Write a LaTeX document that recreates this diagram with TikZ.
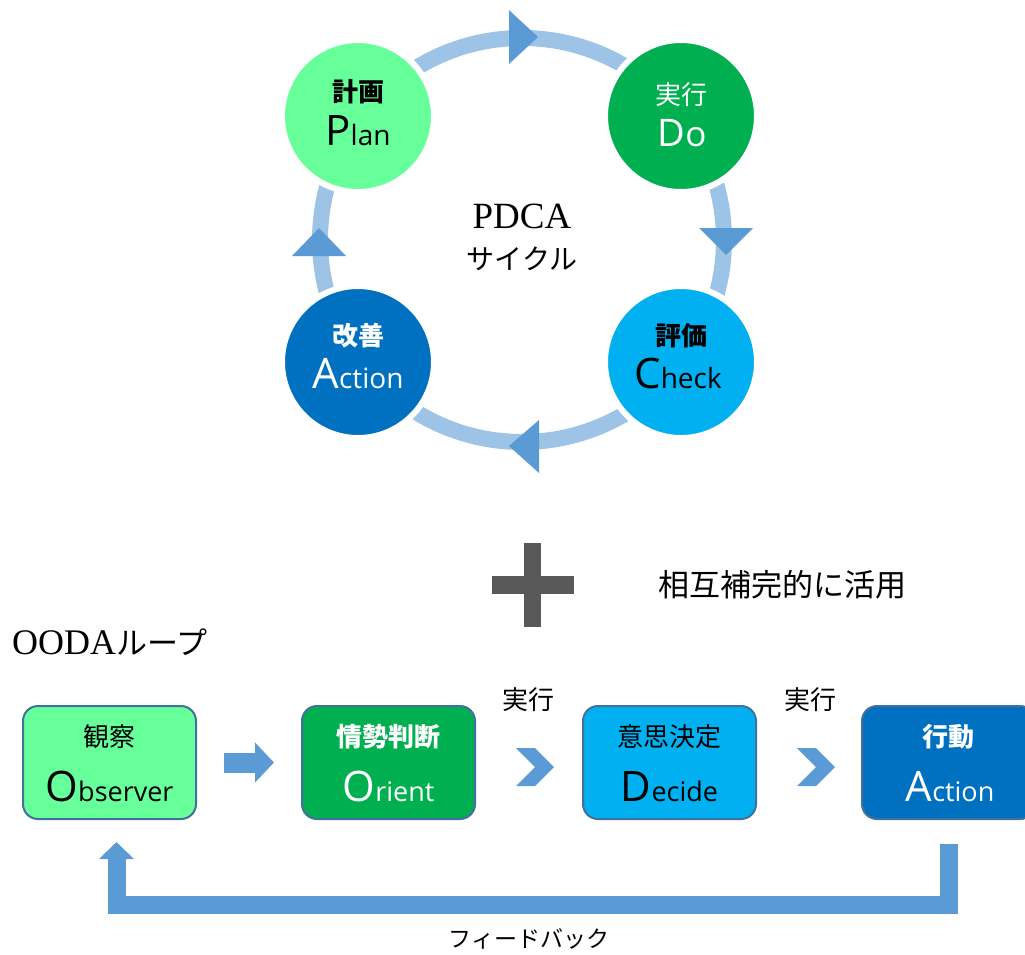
\documentclass[tikz,border=0pt]{standalone}
\usepackage{fontspec}
\setmainfont{Liberation Serif}
\newfontfamily\jp{Noto Sans CJK JP}
\newfontfamily\lat{Open Sans}
\usetikzlibrary{arrows.meta}
\definecolor{planc}{HTML}{66FF99}
\definecolor{doc}{HTML}{00B050}
\definecolor{chkc}{HTML}{00B0F0}
\definecolor{actc}{HTML}{0070C0}
\definecolor{ringc}{HTML}{9DC3E6}
\definecolor{arrc}{HTML}{5B9BD5}
\definecolor{plusc}{HTML}{595959}
\definecolor{bordc}{HTML}{41719C}
\begin{document}
\begin{tikzpicture}[x=1pt,y=-1pt,
  cyc/.style={circle, minimum size=152pt, inner sep=0pt, draw=white, line width=6pt},
  box/.style={rounded corners=15pt, minimum width=173pt, minimum height=113pt, draw=bordc, line width=2pt, inner sep=0pt},
  jpbold/.style={font=\jp\bfseries\fontsize{26}{30}\selectfont, inner sep=0pt},
  jpreg/.style={font=\jp\fontsize{26}{30}\selectfont, inner sep=0pt},
  bigword/.style={anchor=base, inner sep=0pt, font=\lat},
  ringtip/.style={fill=arrc},
  blockarrow/.style={draw=arrc, line width=20pt, -{Triangle[length=19pt,width=39pt]}},
  chev/.style={fill=arrc}
]
\useasboundingbox (0,0) rectangle (1025,954);
\clip (0,0) rectangle (1025,954);

% PDCA ring
\draw[ringc, line width=16pt] (522,240) circle[radius=202];
\node[cyc, fill=planc] (plan) at (358,116) {};
\node[cyc, fill=doc]   (do)   at (681,116) {};
\node[cyc, fill=actc]  (pact) at (358,362) {};
\node[cyc, fill=chkc]  (chk)  at (681,362) {};
% ring arrowheads
\fill[ringtip] (509,10) -- (509,64) -- (538,37) -- cycle;
\fill[ringtip] (699,228) -- (753,228) -- (726,255) -- cycle;
\fill[ringtip] (539,420) -- (539,473) -- (509,446) -- cycle;
\fill[ringtip] (292,256) -- (346,256) -- (319,228) -- cycle;

% circle texts
\node[jpbold, text=black] (planJ) at (358,92) {計画};
\node[bigword, text=black] (planE) at (358,145) {\fontsize{42}{42}\selectfont P\fontsize{28}{28}\selectfont lan};
\node[jpreg, text=white] (doJ) at (681,95) {実行};
\node[bigword, text=white] (doE) at (682,146) {\fontsize{38}{38}\selectfont D\fontsize{35}{35}\selectfont o};
\node[jpbold, text=white] (pactJ) at (358,336) {改善};
\node[bigword, text=white] (pactE) at (358,388) {\fontsize{42}{42}\selectfont A\fontsize{28}{28}\selectfont ction};
\node[jpbold, text=black] (chkJ) at (681,336) {評価};
\node[bigword, text=black] (chkE) at (678,388) {\fontsize{42}{42}\selectfont C\fontsize{28}{28}\selectfont heck};

\node[inner sep=0pt, font=\fontsize{37}{40}\selectfont] (pdca) at (522,216.5) {PDCA};
\node[inner sep=0pt, font=\jp\fontsize{28}{32}\selectfont] (cycle) at (522,258.5) {サイクル};

% plus and caption
\fill[plusc] (524,543) rectangle (541,627);
\fill[plusc] (492,576) rectangle (574,594);
\node[inner sep=0pt, font=\jp\fontsize{31}{34}\selectfont] (mutual) at (782,585) {相互補完的に活用};

% OODA
\node[anchor=west, inner sep=0pt] (ooda) at (12,642) {\fontsize{36}{38}\selectfont OODA\jp\fontsize{31}{34}\selectfont ループ};

\node[box, fill=planc] (obs) at (109.5,762.5) {};
\node[box, fill=doc]   (ori) at (388.5,762.5) {};
\node[box, fill=chkc]  (dec) at (669.5,762.5) {};
\node[box, fill=actc]  (act) at (948.5,762.5) {};

\node[jpreg, text=black] (obsJ) at (109.5,737) {観察};
\node[bigword, text=black] (obsE) at (109.5,801) {\fontsize{42}{42}\selectfont O\fontsize{27}{27}\selectfont bserver};
\node[jpbold, text=white] (oriJ) at (388.5,737) {情勢判断};
\node[bigword, text=white] (oriE) at (388.5,801) {\fontsize{42}{42}\selectfont O\fontsize{27}{27}\selectfont rient};
\node[jpreg, text=black] (decJ) at (669.5,737) {意思決定};
\node[bigword, text=black] (decE) at (669.5,801) {\fontsize{42}{42}\selectfont D\fontsize{27}{27}\selectfont ecide};
\node[jpbold, text=white] (actJ) at (948.5,737) {行動};
\node[bigword, text=white] (actE) at (950,801) {\fontsize{42}{42}\selectfont A\fontsize{27}{27}\selectfont ction};

% connectors
\draw[blockarrow] ([xshift=27pt]obs.east) -- ([xshift=-27pt]ori.west);
\fill[chev] (516,748) -- (535,748) -- (554,767) -- (535,786) -- (516,786) -- (535,767) -- cycle;
\fill[chev] (797,748) -- (816,748) -- (835,767) -- (816,786) -- (797,786) -- (816,767) -- cycle;
\node[jpreg] (exec1) at (528,700) {実行};
\node[jpreg] (exec2) at (810,700) {実行};

% feedback
\coordinate (fbA) at (949,844);
\coordinate (fbB) at (949,904.5);
\coordinate (fbC) at (116.5,904.5);
\coordinate (fbD) at (116.5,842);
\draw[arrc, line width=18pt, line join=miter, -{Triangle[length=17pt,width=34pt]}] (fbA) -- (fbB) -- (fbC) -- (fbD);
\node[inner sep=0pt, font=\jp\fontsize{23}{26}\selectfont] (fb) at (529,939) {フィードバック};
\end{tikzpicture}
\end{document}
